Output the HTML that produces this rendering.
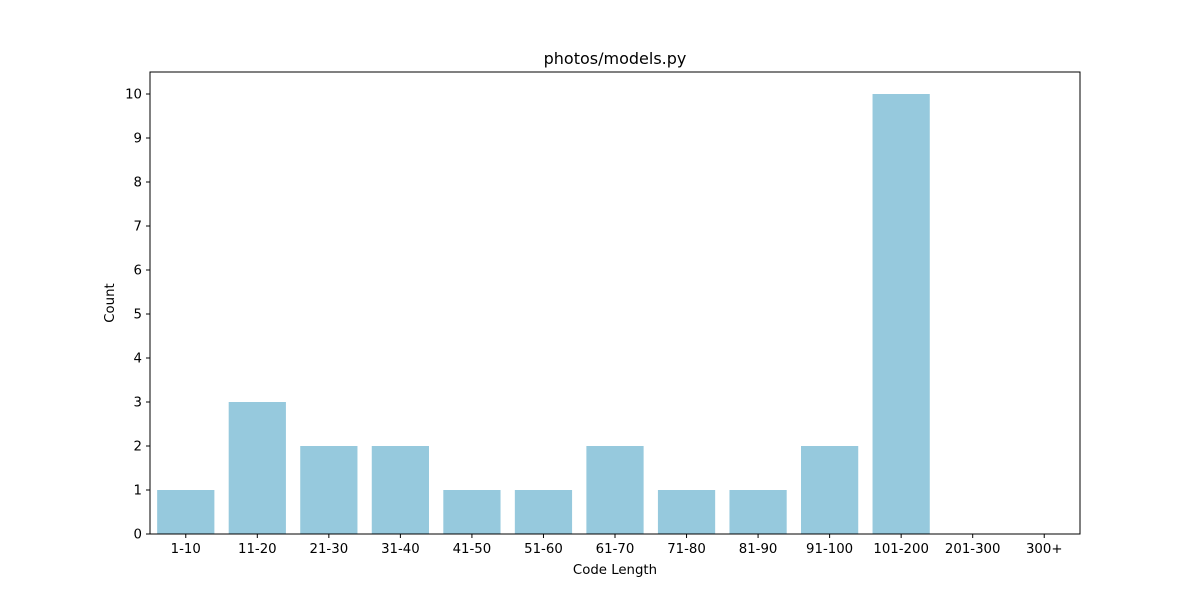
<!DOCTYPE html>
<html><head><meta charset="utf-8"><style>body{margin:0;background:#fff}svg{display:block;font-family:"DejaVu Sans","Liberation Sans",sans-serif}</style></head>
<body>
<svg id="chart" width="1200" height="600" xmlns="http://www.w3.org/2000/svg">
<rect width="1200" height="600" fill="#fff"/>
<text x="615" y="64" font-size="16" text-anchor="middle">photos/models.py</text>
<g id="bars"></g>
<g id="axes"></g>
<rect x="150" y="72" width="930" height="462" fill="none" stroke="#000" stroke-width="1"/>
<text x="615" y="574" font-size="13.3" text-anchor="middle">Code Length</text>
<text x="114" y="303" font-size="13.3" text-anchor="middle" transform="rotate(-90 114 303)">Count</text>
</svg>
<script>
const categories=["1-10","11-20","21-30","31-40","41-50","51-60","61-70","71-80","81-90","91-100","101-200","201-300","300+"];
const counts=[1,3,2,2,1,1,2,1,1,2,10,0,0];
const yTicks=[0,1,2,3,4,5,6,7,8,9,10];
const NS="http://www.w3.org/2000/svg";
const x0=150,x1=1080,yBase=534,yTop=94,yMaxVal=10;
const band=(x1-x0)/categories.length;
const xc=i=>x0+band*(i+0.5);
const y=v=>yBase-(yBase-yTop)*v/yMaxVal;
const bars=document.getElementById('bars'),axes=document.getElementById('axes');
function mk(t,a){const e=document.createElementNS(NS,t);for(const k in a)e.setAttribute(k,a[k]);return e;}
categories.forEach((c,i)=>{
 const w=band*0.8;
 const r=mk('rect',{x:xc(i)-w/2,y:y(counts[i]),width:w,height:yBase-y(counts[i]),fill:'#96c9dd'});
 
 
 bars.appendChild(r);
 const t=mk('line',{x1:xc(i),x2:xc(i),y1:yBase,y2:yBase+4,stroke:'#000'});
 
 
 axes.appendChild(t);
 const l=mk('text',{x:xc(i),y:yBase+19,'font-size':13.3,'text-anchor':'middle'});
 l.textContent=c;
 
 
 axes.appendChild(l);
});
yTicks.forEach(v=>{
 const t=mk('line',{x1:x0-4,x2:x0,y1:y(v),y2:y(v),stroke:'#000'});
 
 
 axes.appendChild(t);
 const l=mk('text',{x:x0-8,y:y(v)+4.5,'font-size':13.3,'text-anchor':'end'});
 l.textContent=v;
 
 
 axes.appendChild(l);
});
</script>
</body></html>
